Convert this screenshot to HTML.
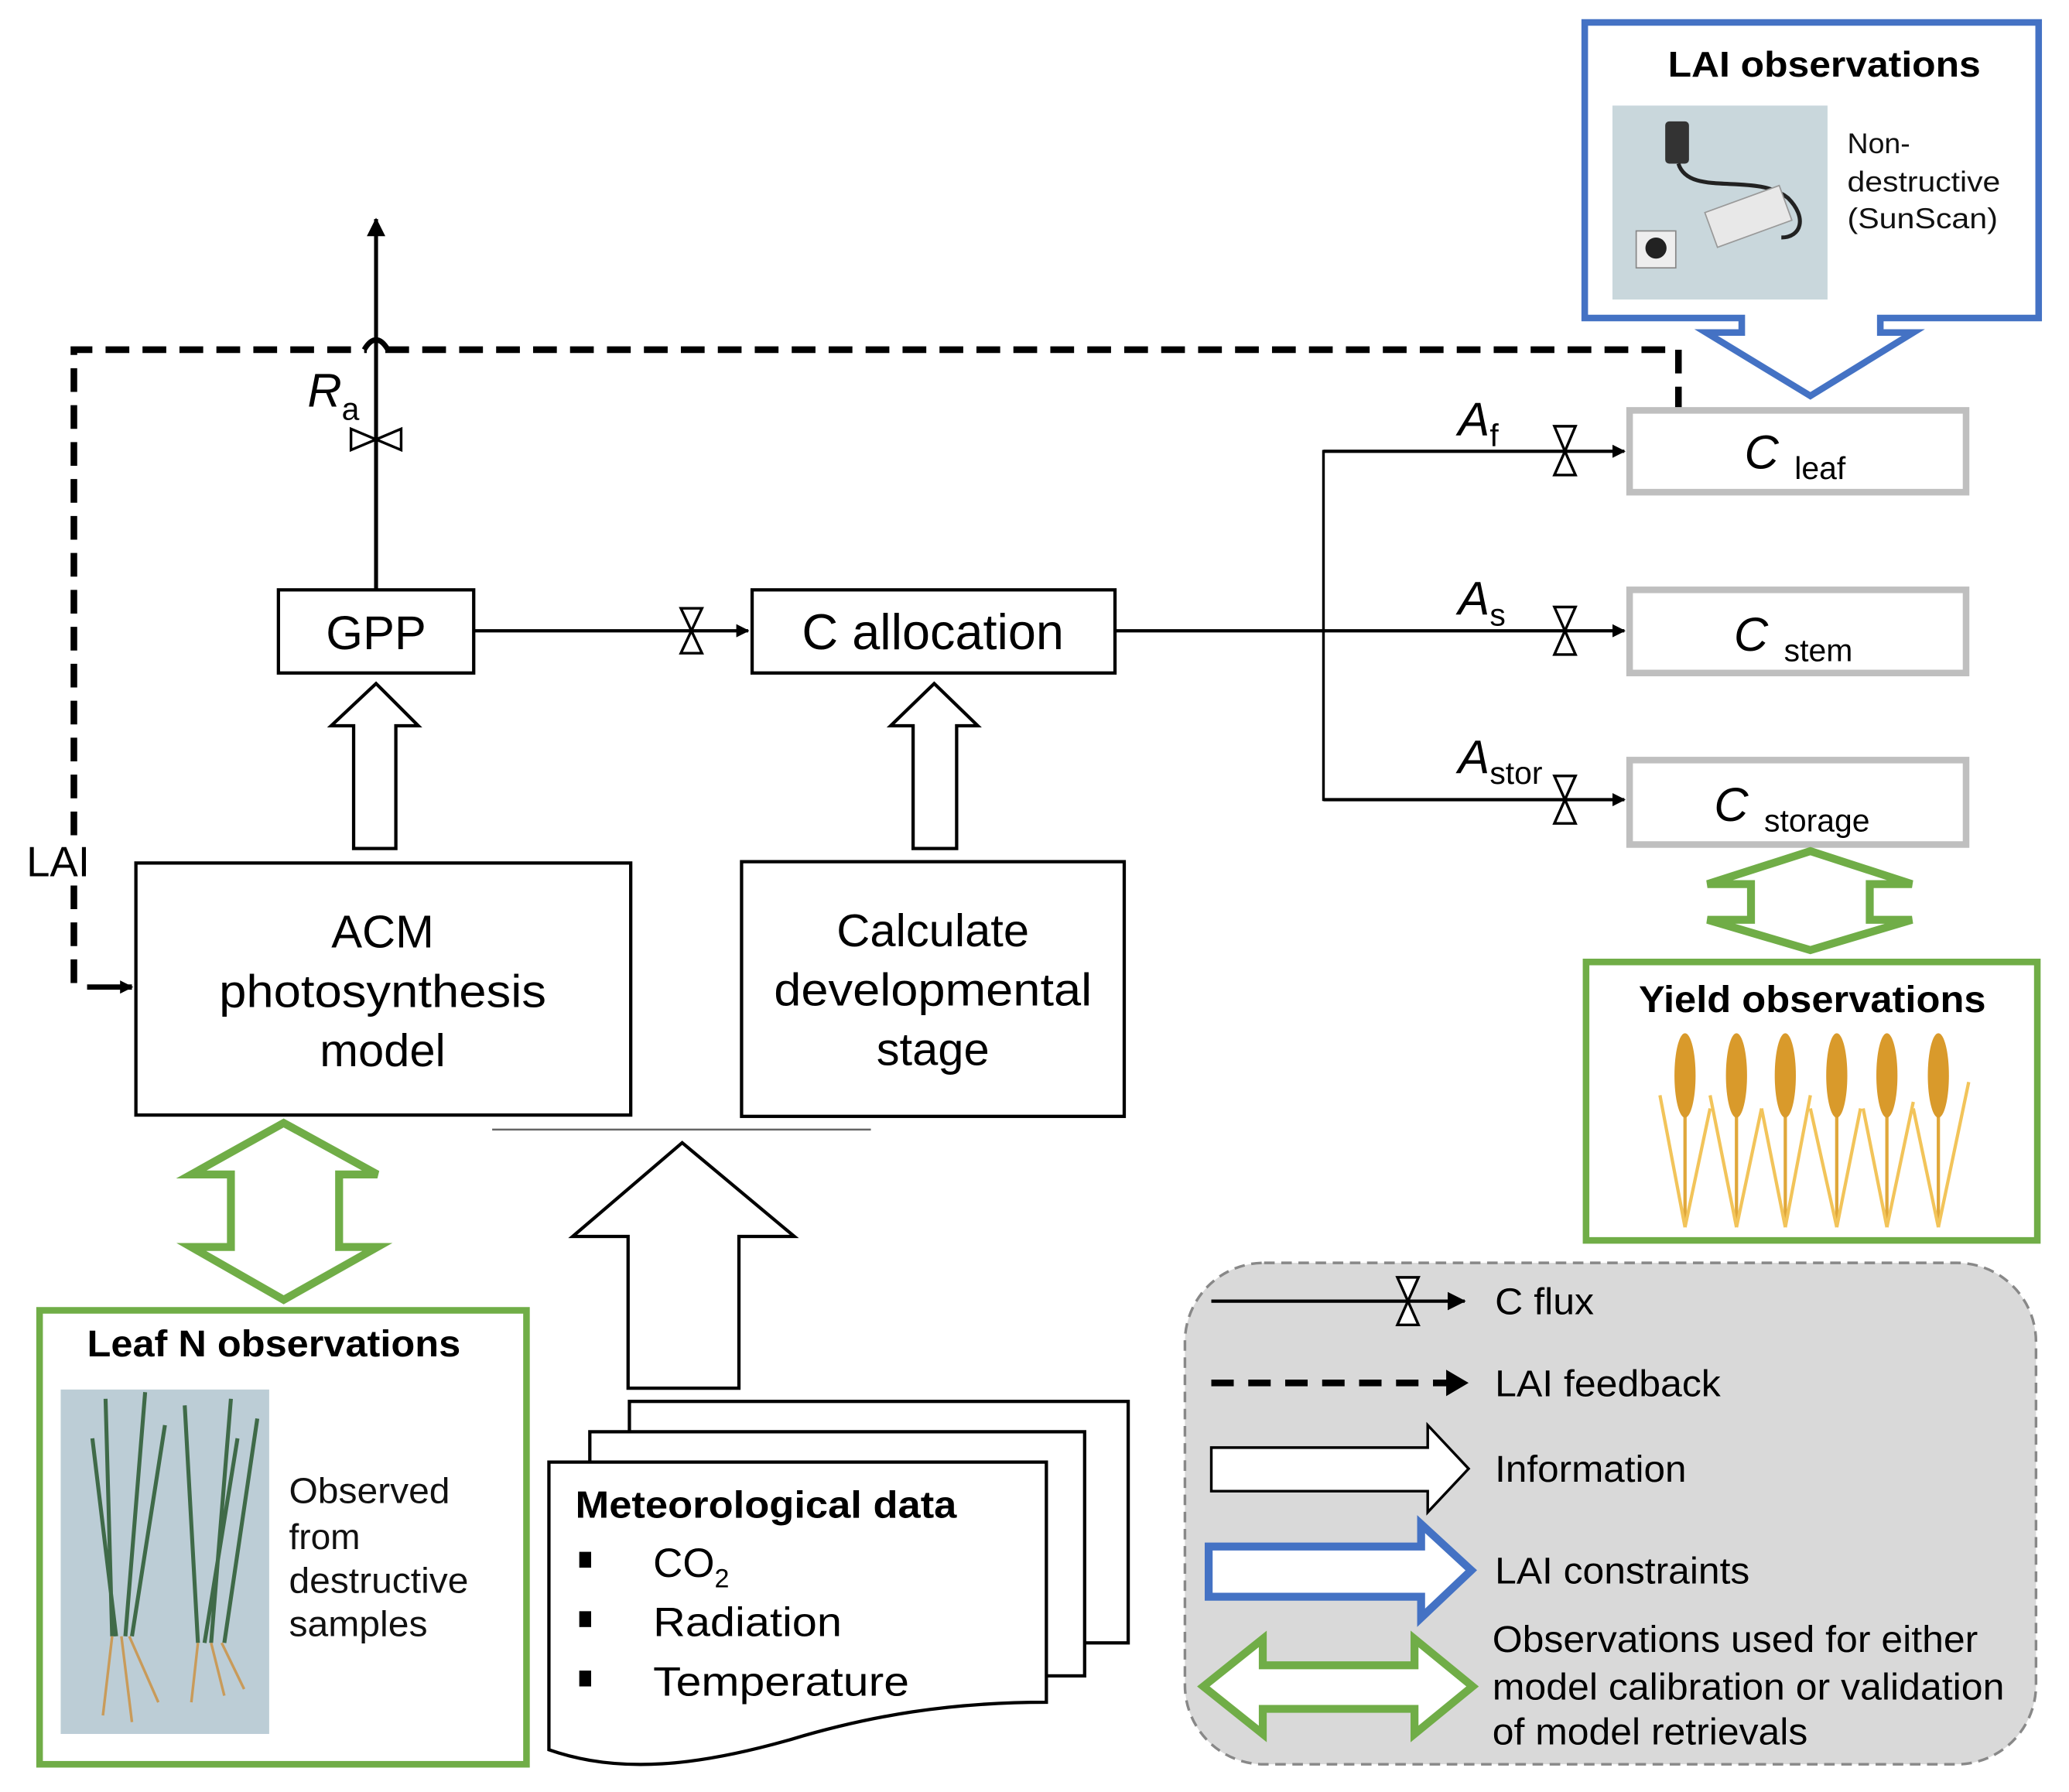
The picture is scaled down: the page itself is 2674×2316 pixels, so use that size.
<!DOCTYPE html>
<html><head><meta charset="utf-8"><style>html,body{margin:0;padding:0;background:#fff}svg{display:block}</style></head>
<body>
<svg width="2674" height="2316" viewBox="0 0 1568 1358" preserveAspectRatio="none" xmlns="http://www.w3.org/2000/svg" font-family="Liberation Sans, Arial, sans-serif">
<defs>
<marker id="ah" markerWidth="10" markerHeight="10" refX="9" refY="5" orient="auto" markerUnits="userSpaceOnUse"><path d="M0,0 L10,5 L0,10 z" fill="#000"/></marker>
<marker id="ah2" markerWidth="14" markerHeight="14" refX="13" refY="7" orient="auto" markerUnits="userSpaceOnUse"><path d="M0,0 L14,7 L0,14 z" fill="#000"/></marker>
</defs>

<!-- LAI observations callout -->
<path d="M1201,17 H1545 V241 H1425 V252 H1450 L1372,300 L1293,252 H1320 V241 H1201 Z" fill="#fff" stroke="#4472c4" stroke-width="5"/>
<text x="1264" y="58" font-size="27" font-weight="bold" textLength="237" lengthAdjust="spacingAndGlyphs">LAI observations</text>
<rect x="1222" y="80" width="163" height="147" fill="#c9d7dc"/>
<rect x="1262" y="92" width="18" height="32" rx="3" fill="#333"/>
<path d="M1272,124 C1280,150 1330,130 1355,150 C1370,165 1365,180 1350,180" fill="none" stroke="#222" stroke-width="3"/>
<rect x="1295" y="150" width="60" height="28" fill="#e8e8e8" stroke="#999" transform="rotate(-20 1325 164)"/>
<rect x="1240" y="175" width="30" height="28" fill="#eee" stroke="#888"/>
<circle cx="1255" cy="188" r="8" fill="#222"/>
<text font-size="22" fill="#111"><tspan x="1400" y="116">Non-</tspan><tspan x="1400" y="145" textLength="116" lengthAdjust="spacingAndGlyphs">destructive</tspan><tspan x="1400" y="173" textLength="114" lengthAdjust="spacingAndGlyphs">(SunScan)</tspan></text>

<!-- dashed LAI feedback -->
<path d="M56,745 V265 H278 M292,265 H1272 V312" fill="none" stroke="#000" stroke-width="5" stroke-dasharray="18 10"/>
<path d="M276,265 Q285,250 294,265" fill="none" stroke="#000" stroke-width="4"/>
<line x1="66" y1="748" x2="100" y2="748" stroke="#000" stroke-width="4" marker-end="url(#ah)"/>
<rect x="18" y="635" width="58" height="36" fill="#fff"/>
<text x="20" y="664" font-size="32">LAI</text>

<!-- Ra flux -->
<line x1="285" y1="447" x2="285" y2="166" stroke="#000" stroke-width="3" marker-end="url(#ah2)"/>
<polygon points="266,325 266,341 285,333 304,325 304,341 285,333" fill="#fff" stroke="#000" stroke-width="2"/>
<text x="233" y="308" font-size="36" font-style="italic">R<tspan font-size="24" font-style="normal" dy="10">a</tspan></text>

<!-- GPP -->
<rect x="211" y="447" width="148" height="63" fill="#fff" stroke="#000" stroke-width="2.5"/>
<text x="285" y="492" font-size="36" text-anchor="middle">GPP</text>
<line x1="359" y1="478" x2="567" y2="478" stroke="#000" stroke-width="2.5" marker-end="url(#ah)"/>
<polygon points="516,461 532,461 524,478 532,495 516,495 524,478" fill="#fff" stroke="#000" stroke-width="2"/>

<!-- C allocation -->
<rect x="570" y="447" width="275" height="63" fill="#fff" stroke="#000" stroke-width="2.5"/>
<text x="707" y="492" font-size="38" text-anchor="middle">C allocation</text>
<line x1="845" y1="478" x2="1003" y2="478" stroke="#000" stroke-width="2.5"/>
<line x1="1003" y1="341" x2="1003" y2="607" stroke="#000" stroke-width="2"/>
<line x1="1003" y1="342" x2="1231" y2="342" stroke="#000" stroke-width="2.5" marker-end="url(#ah)"/>
<line x1="1003" y1="478" x2="1231" y2="478" stroke="#000" stroke-width="2.5" marker-end="url(#ah)"/>
<line x1="1003" y1="606" x2="1231" y2="606" stroke="#000" stroke-width="2.5" marker-end="url(#ah)"/>
<polygon points="1178,323 1194,323 1186,342 1194,360 1178,360 1186,342" fill="#fff" stroke="#000" stroke-width="2"/>
<polygon points="1178,460 1194,460 1186,478 1194,496 1178,496 1186,478" fill="#fff" stroke="#000" stroke-width="2"/>
<polygon points="1178,588 1194,588 1186,606 1194,624 1178,624 1186,606" fill="#fff" stroke="#000" stroke-width="2"/>
<text x="1105" y="330" font-size="36" font-style="italic">A<tspan font-size="24" font-style="normal" dy="8">f</tspan></text>
<text x="1105" y="466" font-size="36" font-style="italic">A<tspan font-size="24" font-style="normal" dy="8">s</tspan></text>
<text x="1105" y="586" font-size="36" font-style="italic">A<tspan font-size="24" font-style="normal" dy="8">stor</tspan></text>

<!-- C pools -->
<rect x="1235" y="311" width="255" height="62" fill="#fff" stroke="#bfbfbf" stroke-width="5"/>
<rect x="1235" y="447" width="255" height="63" fill="#fff" stroke="#bfbfbf" stroke-width="5"/>
<rect x="1235" y="576" width="255" height="64" fill="#fff" stroke="#bfbfbf" stroke-width="5"/>
<text x="1322" y="355" font-size="36" font-style="italic">C<tspan font-size="24" font-style="normal" dx="12" dy="8">leaf</tspan></text>
<text x="1314" y="493" font-size="36" font-style="italic">C<tspan font-size="24" font-style="normal" dx="12" dy="8">stem</tspan></text>
<text x="1299" y="622" font-size="36" font-style="italic">C<tspan font-size="24" font-style="normal" dx="12" dy="8">storage</tspan></text>

<!-- information arrows -->
<polygon points="268,643 268,550 251,550 285,518 317,550 300,550 300,643" fill="#fff" stroke="#000" stroke-width="2.5"/>
<polygon points="692,643 692,550 675,550 708,518 741,550 725,550 725,643" fill="#fff" stroke="#000" stroke-width="2.5"/>

<!-- ACM / Calc -->
<rect x="103" y="654" width="375" height="191" fill="#fff" stroke="#000" stroke-width="2.5"/>
<text font-size="35" text-anchor="middle"><tspan x="290" y="718">ACM</tspan><tspan x="290" y="763" textLength="248" lengthAdjust="spacingAndGlyphs">photosynthesis</tspan><tspan x="290" y="808">model</tspan></text>
<rect x="562" y="653" width="290" height="193" fill="#fff" stroke="#000" stroke-width="2.5"/>
<text font-size="35" text-anchor="middle"><tspan x="707" y="717">Calculate</tspan><tspan x="707" y="762" textLength="241" lengthAdjust="spacingAndGlyphs">developmental</tspan><tspan x="707" y="807">stage</tspan></text>
<line x1="373" y1="856" x2="660" y2="856" stroke="#666" stroke-width="1.5"/>
<polygon points="476,1052 476,937 434,937 517,866 602,937 560,937 560,1052" fill="#fff" stroke="#000" stroke-width="2.5"/>

<!-- green double arrows -->
<polygon points="215,851 286,890 257,890 257,945 286,945 215,985 145,945 175,945 175,890 145,890" fill="#fff" stroke="#70ad47" stroke-width="6" stroke-linejoin="miter"/>
<polygon points="1372,645 1449,670 1417,670 1417,697 1449,697 1372,720 1294,697 1327,697 1327,670 1294,670" fill="#fff" stroke="#70ad47" stroke-width="6"/>

<!-- Yield observations -->
<rect x="1202" y="729" width="342" height="211" fill="#fff" stroke="#70ad47" stroke-width="5"/>
<text x="1242" y="767" font-size="28" font-weight="bold" textLength="263" lengthAdjust="spacingAndGlyphs">Yield observations</text>
<g stroke="#e0a73a" stroke-width="2.5" fill="none">
<path d="M1277,930 V790 M1316,930 V790 M1353,930 V790 M1392,930 V790 M1430,930 V790 M1469,930 V790"/>
<path d="M1277,930 L1258,830 M1277,930 L1296,840 M1316,930 L1296,830 M1316,930 L1335,840 M1353,930 L1335,840 M1353,930 L1372,830 M1392,930 L1372,840 M1392,930 L1410,840 M1430,930 L1412,840 M1430,930 L1450,835 M1469,930 L1450,840 M1469,930 L1492,820" stroke="#f2c45a"/>
</g>
<g fill="#d99a2b">
<ellipse cx="1277" cy="815" rx="8" ry="32"/><ellipse cx="1316" cy="815" rx="8" ry="32"/><ellipse cx="1353" cy="815" rx="8" ry="32"/><ellipse cx="1392" cy="815" rx="8" ry="32"/><ellipse cx="1430" cy="815" rx="8" ry="32"/><ellipse cx="1469" cy="815" rx="8" ry="32"/>
</g>

<!-- Leaf N observations -->
<rect x="30" y="993" width="369" height="344" fill="#fff" stroke="#70ad47" stroke-width="5"/>
<text x="66" y="1028" font-size="28" font-weight="bold" textLength="283" lengthAdjust="spacingAndGlyphs">Leaf N observations</text>
<rect x="46" y="1053" width="158" height="261" fill="#bccdd6"/>
<g stroke="#3f6a48" stroke-width="3" fill="none">
<path d="M85,1240 L80,1060 M95,1240 L110,1055 M100,1240 L125,1080 M150,1245 L140,1065 M160,1245 L175,1060 M170,1245 L195,1075 M88,1240 L70,1090 M155,1245 L180,1090"/>
</g>
<g stroke="#c99b5a" stroke-width="2" fill="none">
<path d="M85,1240 L78,1300 M92,1240 L100,1305 M98,1240 L120,1290 M150,1245 L145,1290 M160,1245 L170,1285 M168,1245 L185,1280"/>
</g>
<text font-size="27" fill="#111"><tspan x="219" y="1139" textLength="122" lengthAdjust="spacingAndGlyphs">Observed</tspan><tspan x="219" y="1174">from</tspan><tspan x="219" y="1207" textLength="136" lengthAdjust="spacingAndGlyphs">destructive</tspan><tspan x="219" y="1240" textLength="105" lengthAdjust="spacingAndGlyphs">samples</tspan></text>

<!-- Meteorological pages -->
<rect x="477" y="1062" width="378" height="183" fill="#fff" stroke="#000" stroke-width="2.5"/>
<rect x="447" y="1085" width="375" height="185" fill="#fff" stroke="#000" stroke-width="2.5"/>
<path d="M416,1108 H793 V1290 C720,1290 660,1300 600,1318 C530,1338 470,1345 416,1326 Z" fill="#fff" stroke="#000" stroke-width="2.5"/>
<text x="436" y="1150" font-size="29" font-weight="bold" textLength="289" lengthAdjust="spacingAndGlyphs">Meteorological data</text>
<rect x="439" y="1176" width="9" height="12" fill="#000"/>
<rect x="439" y="1221" width="9" height="12" fill="#000"/>
<rect x="439" y="1266" width="9" height="12" fill="#000"/>
<text x="495" y="1195" font-size="31">CO<tspan font-size="20" dy="8">2</tspan></text>
<text x="495" y="1240" font-size="31" textLength="143" lengthAdjust="spacingAndGlyphs">Radiation</text>
<text x="495" y="1285" font-size="31" textLength="194" lengthAdjust="spacingAndGlyphs">Temperature</text>

<!-- Legend -->
<rect x="898" y="957" width="645" height="380" rx="60" ry="60" fill="#d9d9d9" stroke="#888" stroke-width="2" stroke-dasharray="8 5"/>
<line x1="918" y1="986" x2="1110" y2="986" stroke="#000" stroke-width="2.5" marker-end="url(#ah2)"/>
<polygon points="1059,968 1075,968 1067,986 1075,1004 1059,1004 1067,986" fill="#fff" stroke="#000" stroke-width="2"/>
<text x="1133" y="996" font-size="28" textLength="75" lengthAdjust="spacingAndGlyphs">C flux</text>
<line x1="918" y1="1048" x2="1098" y2="1048" stroke="#000" stroke-width="5" stroke-dasharray="17 11"/>
<path d="M1096,1038 L1113,1048 L1096,1058 z" fill="#000"/>
<text x="1133" y="1058" font-size="28" textLength="171" lengthAdjust="spacingAndGlyphs">LAI feedback</text>
<polygon points="918,1097 1082,1097 1082,1080 1113,1113 1082,1146 1082,1130 918,1130" fill="#fff" stroke="#000" stroke-width="2"/>
<text x="1133" y="1123" font-size="28" textLength="145" lengthAdjust="spacingAndGlyphs">Information</text>
<polygon points="916,1172 1077,1172 1077,1155 1115,1190 1077,1226 1077,1210 916,1210" fill="#fff" stroke="#4472c4" stroke-width="6"/>
<text x="1133" y="1200" font-size="28" textLength="193" lengthAdjust="spacingAndGlyphs">LAI constraints</text>
<polygon points="912,1278 957,1242 957,1262 1072,1262 1072,1242 1116,1278 1072,1314 1072,1295 957,1295 957,1314" fill="#fff" stroke="#70ad47" stroke-width="6"/>
<text font-size="28"><tspan x="1131" y="1252" textLength="368" lengthAdjust="spacingAndGlyphs">Observations used for either</tspan><tspan x="1131" y="1288" textLength="388" lengthAdjust="spacingAndGlyphs">model calibration or validation</tspan><tspan x="1131" y="1322" textLength="239" lengthAdjust="spacingAndGlyphs">of model retrievals</tspan></text>
</svg>
</body></html>
